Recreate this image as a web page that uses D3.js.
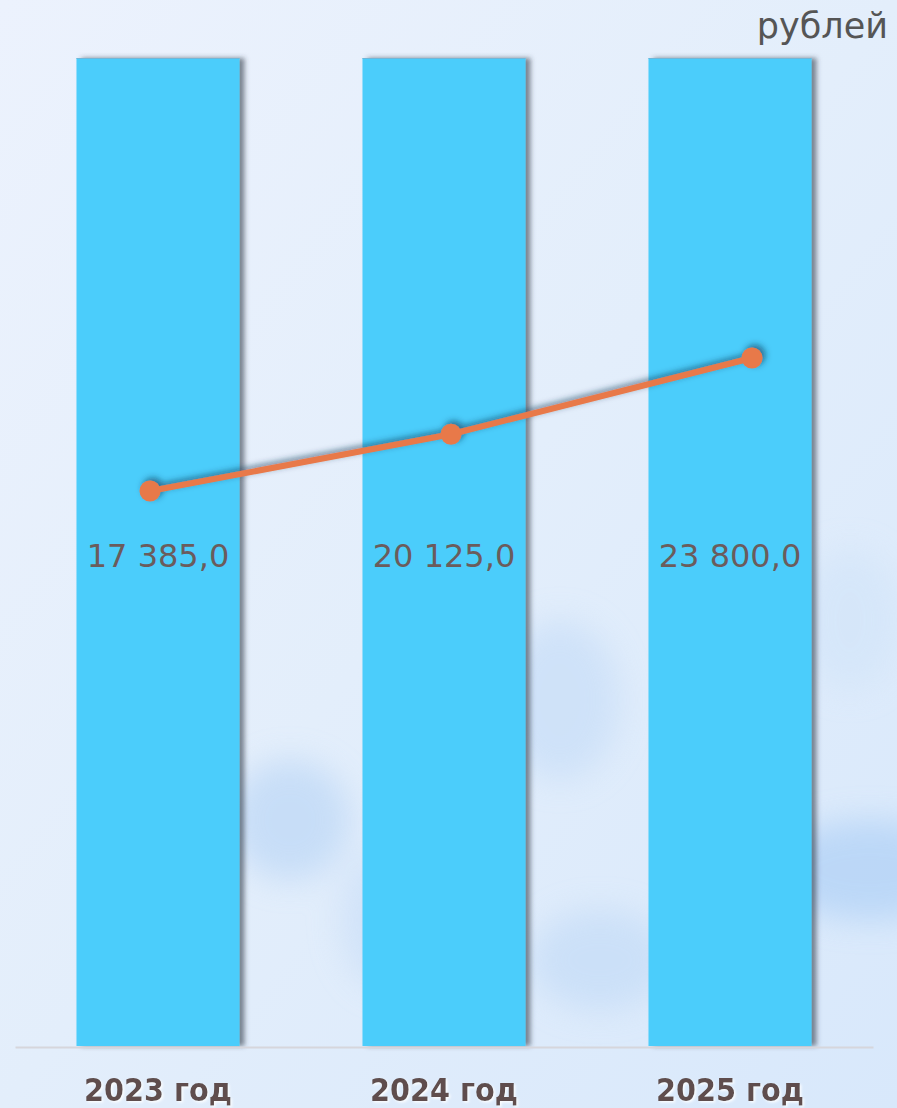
<!DOCTYPE html>
<html><head><meta charset="utf-8">
<script src="https://cdn.jsdelivr.net/npm/d3@7"></script>
<style>
html,body{margin:0;padding:0;background:#e5eefb;overflow:hidden}
svg{display:block}
</style></head><body>
<svg id="chart" width="897" height="1108"></svg>
<script>
const categories = ["2023 год", "2024 год", "2025 год"];
const barValues = [100, 100, 100];
const lineValues = [17385.0, 20125.0, 23800.0];
const unitLabel = "рублей";

const W = 897, H = 1108;
const svg = d3.select("#chart");
const defs = svg.append("defs");

// background
const bg = defs.append("linearGradient").attr("id","bg").attr("x1",0).attr("y1",0).attr("x2",1).attr("y2",1);
bg.append("stop").attr("offset","0%").attr("stop-color","#ecf2fd");
bg.append("stop").attr("offset","50%").attr("stop-color","#e3eefb");
bg.append("stop").attr("offset","100%").attr("stop-color","#d8e8fb");
svg.append("rect").attr("width",W).attr("height",H).attr("fill","url(#bg)");

const blur = defs.append("filter").attr("id","blur").attr("x","-50%").attr("y","-50%").attr("width","200%").attr("height","200%");
blur.append("feGaussianBlur").attr("stdDeviation",16);
const blobs = [[290,820,60,60,"#bcd7f6"],[560,700,60,80,"#c8def8"],[870,870,100,50,"#afd0f6"],[600,960,70,50,"#c4dcf7"],[850,620,50,70,"#d3e5f9"],[390,920,50,70,"#cbdff8"]];
const bgG = svg.append("g").attr("filter","url(#blur)").attr("opacity",0.7);
blobs.forEach(b=>bgG.append("ellipse").attr("cx",b[0]).attr("cy",b[1]).attr("rx",b[2]).attr("ry",b[3]).attr("fill",b[4]));

// shadows
const sh = defs.append("filter").attr("id","barShadow").attr("x","-10%").attr("y","-5%").attr("width","130%").attr("height","110%");
sh.append("feDropShadow").attr("dx",5).attr("dy",0).attr("stdDeviation",2.5).attr("flood-color","#303a48").attr("flood-opacity",0.6);
const lsh = defs.append("filter").attr("id","lineShadow").attr("x","-10%").attr("y","-20%").attr("width","120%").attr("height","140%");
lsh.append("feDropShadow").attr("dx",3).attr("dy",-3).attr("stdDeviation",3).attr("flood-color","#103050").attr("flood-opacity",0.6);
const tsh = defs.append("filter").attr("id","textShadow");
tsh.append("feDropShadow").attr("dx",1.5).attr("dy",1.5).attr("stdDeviation",0.8).attr("flood-color","#ffffff").attr("flood-opacity",0.9);

const plotTop = 58, plotBottom = 1046;
const x = d3.scaleBand().domain(categories).range([15, 873]).paddingInner(0.43).paddingOuter(0.215);
const yBar = d3.scaleLinear().domain([0, 100]).range([plotBottom, plotTop]);
const xLine = d3.scalePoint().domain(categories).range([150, 752]);
const yLine = d3.scaleLinear().domain([-9388, 38273]).range([plotBottom, plotTop]);

// bars
const bars = svg.append("g").attr("filter","url(#barShadow)");
bars.selectAll("rect").data(categories).join("rect")
  .attr("x", d=>x(d)).attr("width", x.bandwidth())
  .attr("y", (d,i)=>yBar(barValues[i]))
  .attr("height", (d,i)=>yBar(0)-yBar(barValues[i]))
  .attr("fill","#4bcdfb");
bars.selectAll("line").data(categories).join("line")
  .attr("x1", d=>x(d)).attr("x2", d=>x(d)+x.bandwidth())
  .attr("y1", (d,i)=>yBar(barValues[i])+0.5).attr("y2",(d,i)=>yBar(barValues[i])+0.5)
  .attr("stroke","#6fb6d8").attr("stroke-width",1);

// axis line
const xAxis = d3.axisBottom(x).tickSize(0).tickPadding(0);
const ax = svg.append("g").attr("transform",`translate(0,${plotBottom+1})`).call(xAxis);
ax.select(".domain").attr("stroke","#d6d6dc").attr("stroke-width",2);
ax.selectAll(".tick text").remove();

// category labels
svg.append("g").attr("filter","url(#textShadow)")
  .selectAll("text").data(categories).join("text")
  .attr("x", d=>x(d)+x.bandwidth()/2)
  .attr("y", 1101)
  .attr("text-anchor","middle")
  .attr("font-family","'DejaVu Sans Condensed','DejaVu Sans',sans-serif")
  .attr("font-stretch","condensed")
  .attr("font-weight","bold")
  .attr("font-size",32)
  .attr("fill","#5e4e4e")
  .text(d=>d);

// line
const lineGen = d3.line().x((d,i)=>xLine(categories[i])).y(d=>yLine(d));
const lg = svg.append("g").attr("filter","url(#lineShadow)");
lg.append("path").datum(lineValues).attr("d",lineGen)
  .attr("fill","none").attr("stroke","#e8794a").attr("stroke-width",6).attr("stroke-linecap","round");
lg.selectAll("circle").data(lineValues).join("circle")
  .attr("cx",(d,i)=>xLine(categories[i])).attr("cy",d=>yLine(d)).attr("r",10.5)
  .attr("fill","#e8794a");

// value labels
const fmt = v => d3.format(",.1f")(v).replace(/,/g," ").replace(".",",");
svg.append("g").selectAll("text").data(lineValues).join("text")
  .attr("x",(d,i)=>x(categories[i])+x.bandwidth()/2)
  .attr("y",567)
  .attr("text-anchor","middle")
  .attr("font-family","'DejaVu Sans',Verdana,sans-serif")
  .attr("font-size",32)
  .attr("fill","#6b5c5c")
  .text(d=>fmt(d));

// unit label
svg.append("text").attr("x",888).attr("y",38).attr("text-anchor","end")
  .attr("font-family","'DejaVu Sans',Verdana,sans-serif")
  .attr("font-size",35).attr("fill","#555555").text(unitLabel);
</script>
</body></html>
